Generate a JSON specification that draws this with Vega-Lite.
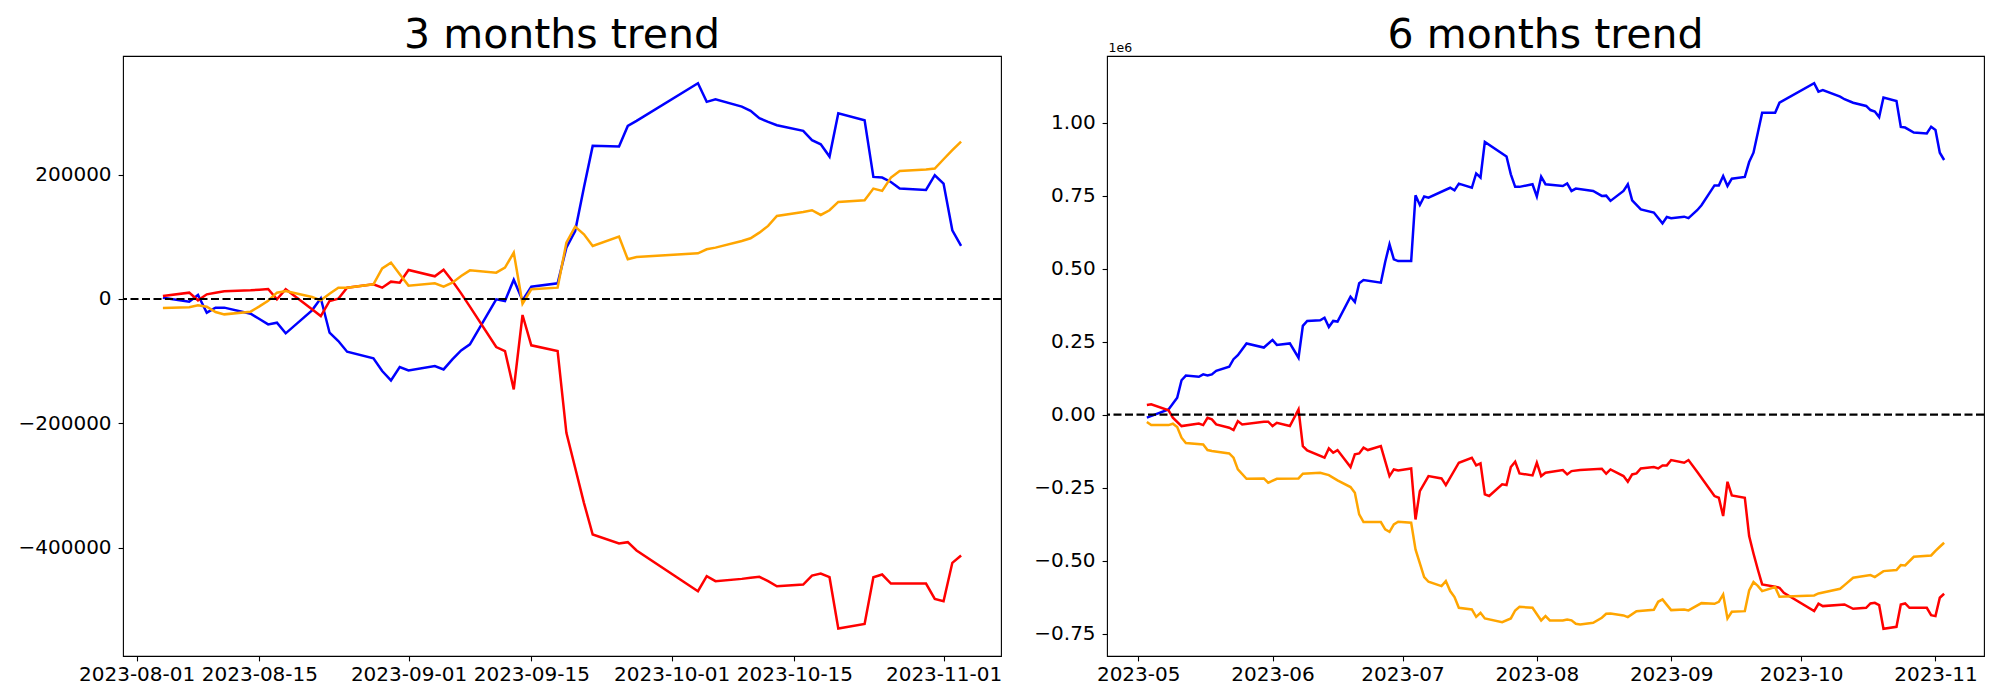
{
  "$schema": "https://vega.github.io/schema/vega-lite/v6.json",
  "background": "white",
  "padding": {"left": 17, "top": 14, "right": 0, "bottom": 0},
  "spacing": 30,
  "config": {
    "font": "DejaVu Sans",
    "view": {"stroke": "black", "strokeWidth": 1.1},
    "axis": {
      "domain": false, "grid": false, "ticks": true, "tickColor": "black", "tickSize": 4.9, "tickWidth": 1.1,
      "labelFont": "DejaVu Sans", "labelFontSize": 20, "labelColor": "black", "labelOverlap": false, "labelFlush": false, "title": null
    },
    "axisX": {"labelPadding": 4},
    "axisY": {"labelPadding": 7},
    "title": {"font": "DejaVu Sans", "fontSize": 41, "fontWeight": "normal", "color": "black", "baseline": "alphabetic", "anchor": "middle", "frame": "group"}
  },
  "datasets": {
    "three": [
      {"date": "2023-08-04", "series": "blue", "value": 2000},
      {"date": "2023-08-07", "series": "blue", "value": -4300},
      {"date": "2023-08-08", "series": "blue", "value": 6400},
      {"date": "2023-08-09", "series": "blue", "value": -22000},
      {"date": "2023-08-10", "series": "blue", "value": -13900},
      {"date": "2023-08-11", "series": "blue", "value": -13900},
      {"date": "2023-08-14", "series": "blue", "value": -23600},
      {"date": "2023-08-15", "series": "blue", "value": -32200},
      {"date": "2023-08-16", "series": "blue", "value": -40800},
      {"date": "2023-08-17", "series": "blue", "value": -38100},
      {"date": "2023-08-18", "series": "blue", "value": -55200},
      {"date": "2023-08-21", "series": "blue", "value": -18200},
      {"date": "2023-08-22", "series": "blue", "value": 1100},
      {"date": "2023-08-23", "series": "blue", "value": -54200},
      {"date": "2023-08-24", "series": "blue", "value": -67600},
      {"date": "2023-08-25", "series": "blue", "value": -84700},
      {"date": "2023-08-28", "series": "blue", "value": -95500},
      {"date": "2023-08-29", "series": "blue", "value": -115800},
      {"date": "2023-08-30", "series": "blue", "value": -130900},
      {"date": "2023-08-31", "series": "blue", "value": -109400},
      {"date": "2023-09-01", "series": "blue", "value": -114800},
      {"date": "2023-09-04", "series": "blue", "value": -107800},
      {"date": "2023-09-05", "series": "blue", "value": -113200},
      {"date": "2023-09-06", "series": "blue", "value": -97100},
      {"date": "2023-09-07", "series": "blue", "value": -82600},
      {"date": "2023-09-08", "series": "blue", "value": -72900},
      {"date": "2023-09-11", "series": "blue", "value": -500},
      {"date": "2023-09-12", "series": "blue", "value": -3200},
      {"date": "2023-09-13", "series": "blue", "value": 31100},
      {"date": "2023-09-14", "series": "blue", "value": -2100},
      {"date": "2023-09-15", "series": "blue", "value": 19800},
      {"date": "2023-09-18", "series": "blue", "value": 25200},
      {"date": "2023-09-19", "series": "blue", "value": 82600},
      {"date": "2023-09-20", "series": "blue", "value": 109400},
      {"date": "2023-09-21", "series": "blue", "value": 179100},
      {"date": "2023-09-22", "series": "blue", "value": 246200},
      {"date": "2023-09-25", "series": "blue", "value": 245100},
      {"date": "2023-09-26", "series": "blue", "value": 278300},
      {"date": "2023-09-27", "series": "blue", "value": 286400},
      {"date": "2023-10-04", "series": "blue", "value": 347000},
      {"date": "2023-10-05", "series": "blue", "value": 317000},
      {"date": "2023-10-06", "series": "blue", "value": 321200},
      {"date": "2023-10-09", "series": "blue", "value": 309400},
      {"date": "2023-10-10", "series": "blue", "value": 302500},
      {"date": "2023-10-11", "series": "blue", "value": 290700},
      {"date": "2023-10-12", "series": "blue", "value": 284800},
      {"date": "2023-10-13", "series": "blue", "value": 279400},
      {"date": "2023-10-16", "series": "blue", "value": 270300},
      {"date": "2023-10-17", "series": "blue", "value": 255300},
      {"date": "2023-10-18", "series": "blue", "value": 248800},
      {"date": "2023-10-19", "series": "blue", "value": 229000},
      {"date": "2023-10-20", "series": "blue", "value": 298700},
      {"date": "2023-10-23", "series": "blue", "value": 287500},
      {"date": "2023-10-24", "series": "blue", "value": 196300},
      {"date": "2023-10-25", "series": "blue", "value": 195200},
      {"date": "2023-10-26", "series": "blue", "value": 188200},
      {"date": "2023-10-27", "series": "blue", "value": 177500},
      {"date": "2023-10-30", "series": "blue", "value": 175400},
      {"date": "2023-10-31", "series": "blue", "value": 199000},
      {"date": "2023-11-01", "series": "blue", "value": 185600},
      {"date": "2023-11-02", "series": "blue", "value": 110500},
      {"date": "2023-11-03", "series": "blue", "value": 85300},

      {"date": "2023-08-04", "series": "red", "value": 4800},
      {"date": "2023-08-07", "series": "red", "value": 10200},
      {"date": "2023-08-08", "series": "red", "value": -2100},
      {"date": "2023-08-09", "series": "red", "value": 7500},
      {"date": "2023-08-10", "series": "red", "value": 10200},
      {"date": "2023-08-11", "series": "red", "value": 12300},
      {"date": "2023-08-14", "series": "red", "value": 13900},
      {"date": "2023-08-15", "series": "red", "value": 15000},
      {"date": "2023-08-16", "series": "red", "value": 16100},
      {"date": "2023-08-17", "series": "red", "value": -500},
      {"date": "2023-08-18", "series": "red", "value": 15600},
      {"date": "2023-08-21", "series": "red", "value": -16600},
      {"date": "2023-08-22", "series": "red", "value": -27400},
      {"date": "2023-08-23", "series": "red", "value": -3200},
      {"date": "2023-08-24", "series": "red", "value": 500},
      {"date": "2023-08-25", "series": "red", "value": 18200},
      {"date": "2023-08-28", "series": "red", "value": 23600},
      {"date": "2023-08-29", "series": "red", "value": 18200},
      {"date": "2023-08-30", "series": "red", "value": 27900},
      {"date": "2023-08-31", "series": "red", "value": 26300},
      {"date": "2023-09-01", "series": "red", "value": 46700},
      {"date": "2023-09-04", "series": "red", "value": 36500},
      {"date": "2023-09-05", "series": "red", "value": 47200},
      {"date": "2023-09-06", "series": "red", "value": 29000},
      {"date": "2023-09-07", "series": "red", "value": 9100},
      {"date": "2023-09-08", "series": "red", "value": -12300},
      {"date": "2023-09-11", "series": "red", "value": -77200},
      {"date": "2023-09-12", "series": "red", "value": -83700},
      {"date": "2023-09-13", "series": "red", "value": -145300},
      {"date": "2023-09-14", "series": "red", "value": -25700},
      {"date": "2023-09-15", "series": "red", "value": -74500},
      {"date": "2023-09-18", "series": "red", "value": -83700},
      {"date": "2023-09-19", "series": "red", "value": -215100},
      {"date": "2023-09-20", "series": "red", "value": -271400},
      {"date": "2023-09-21", "series": "red", "value": -327700},
      {"date": "2023-09-22", "series": "red", "value": -378600},
      {"date": "2023-09-25", "series": "red", "value": -393100},
      {"date": "2023-09-26", "series": "red", "value": -391000},
      {"date": "2023-09-27", "series": "red", "value": -404400},
      {"date": "2023-10-04", "series": "red", "value": -469800},
      {"date": "2023-10-05", "series": "red", "value": -445700},
      {"date": "2023-10-06", "series": "red", "value": -453700},
      {"date": "2023-10-09", "series": "red", "value": -450000},
      {"date": "2023-10-10", "series": "red", "value": -448300},
      {"date": "2023-10-11", "series": "red", "value": -446700},
      {"date": "2023-10-12", "series": "red", "value": -453700},
      {"date": "2023-10-13", "series": "red", "value": -461800},
      {"date": "2023-10-16", "series": "red", "value": -459100},
      {"date": "2023-10-17", "series": "red", "value": -444600},
      {"date": "2023-10-18", "series": "red", "value": -441400},
      {"date": "2023-10-19", "series": "red", "value": -447300},
      {"date": "2023-10-20", "series": "red", "value": -529900},
      {"date": "2023-10-23", "series": "red", "value": -522400},
      {"date": "2023-10-24", "series": "red", "value": -447300},
      {"date": "2023-10-25", "series": "red", "value": -443000},
      {"date": "2023-10-26", "series": "red", "value": -457500},
      {"date": "2023-10-27", "series": "red", "value": -457500},
      {"date": "2023-10-30", "series": "red", "value": -457500},
      {"date": "2023-10-31", "series": "red", "value": -482100},
      {"date": "2023-11-01", "series": "red", "value": -485900},
      {"date": "2023-11-02", "series": "red", "value": -424200},
      {"date": "2023-11-03", "series": "red", "value": -412400},

      {"date": "2023-08-04", "series": "orange", "value": -14500},
      {"date": "2023-08-07", "series": "orange", "value": -13400},
      {"date": "2023-08-08", "series": "orange", "value": -10200},
      {"date": "2023-08-09", "series": "orange", "value": -12300},
      {"date": "2023-08-10", "series": "orange", "value": -20900},
      {"date": "2023-08-11", "series": "orange", "value": -24700},
      {"date": "2023-08-14", "series": "orange", "value": -20400},
      {"date": "2023-08-15", "series": "orange", "value": -11800},
      {"date": "2023-08-16", "series": "orange", "value": -2700},
      {"date": "2023-08-17", "series": "orange", "value": 10200},
      {"date": "2023-08-18", "series": "orange", "value": 12900},
      {"date": "2023-08-21", "series": "orange", "value": 3200},
      {"date": "2023-08-22", "series": "orange", "value": -2100},
      {"date": "2023-08-23", "series": "orange", "value": 8600},
      {"date": "2023-08-24", "series": "orange", "value": 18200},
      {"date": "2023-08-25", "series": "orange", "value": 18200},
      {"date": "2023-08-28", "series": "orange", "value": 23600},
      {"date": "2023-08-29", "series": "orange", "value": 49300},
      {"date": "2023-08-30", "series": "orange", "value": 58500},
      {"date": "2023-08-31", "series": "orange", "value": 39700},
      {"date": "2023-09-01", "series": "orange", "value": 21500},
      {"date": "2023-09-04", "series": "orange", "value": 25200},
      {"date": "2023-09-05", "series": "orange", "value": 19800},
      {"date": "2023-09-06", "series": "orange", "value": 26300},
      {"date": "2023-09-07", "series": "orange", "value": 37000},
      {"date": "2023-09-08", "series": "orange", "value": 46100},
      {"date": "2023-09-11", "series": "orange", "value": 42400},
      {"date": "2023-09-12", "series": "orange", "value": 50400},
      {"date": "2023-09-13", "series": "orange", "value": 74500},
      {"date": "2023-09-14", "series": "orange", "value": -7500},
      {"date": "2023-09-15", "series": "orange", "value": 15600},
      {"date": "2023-09-18", "series": "orange", "value": 18200},
      {"date": "2023-09-19", "series": "orange", "value": 90600},
      {"date": "2023-09-20", "series": "orange", "value": 116400},
      {"date": "2023-09-21", "series": "orange", "value": 104000},
      {"date": "2023-09-22", "series": "orange", "value": 85300},
      {"date": "2023-09-25", "series": "orange", "value": 100300},
      {"date": "2023-09-26", "series": "orange", "value": 63800},
      {"date": "2023-09-27", "series": "orange", "value": 67600},
      {"date": "2023-10-04", "series": "orange", "value": 73500},
      {"date": "2023-10-05", "series": "orange", "value": 79900},
      {"date": "2023-10-06", "series": "orange", "value": 82600},
      {"date": "2023-10-09", "series": "orange", "value": 93300},
      {"date": "2023-10-10", "series": "orange", "value": 97600},
      {"date": "2023-10-11", "series": "orange", "value": 106700},
      {"date": "2023-10-12", "series": "orange", "value": 117500},
      {"date": "2023-10-13", "series": "orange", "value": 133500},
      {"date": "2023-10-16", "series": "orange", "value": 140000},
      {"date": "2023-10-17", "series": "orange", "value": 142700},
      {"date": "2023-10-18", "series": "orange", "value": 135100},
      {"date": "2023-10-19", "series": "orange", "value": 142700},
      {"date": "2023-10-20", "series": "orange", "value": 156100},
      {"date": "2023-10-23", "series": "orange", "value": 158700},
      {"date": "2023-10-24", "series": "orange", "value": 177500},
      {"date": "2023-10-25", "series": "orange", "value": 173800},
      {"date": "2023-10-26", "series": "orange", "value": 195200},
      {"date": "2023-10-27", "series": "orange", "value": 205900},
      {"date": "2023-10-30", "series": "orange", "value": 208100},
      {"date": "2023-10-31", "series": "orange", "value": 209700},
      {"date": "2023-11-01", "series": "orange", "value": 224700},
      {"date": "2023-11-02", "series": "orange", "value": 239200},
      {"date": "2023-11-03", "series": "orange", "value": 253100}
    ],
    "six": [
      {"date": "2023-05-03", "series": "blue", "value": -10000},
      {"date": "2023-05-08", "series": "blue", "value": 18000},
      {"date": "2023-05-10", "series": "blue", "value": 58000},
      {"date": "2023-05-11", "series": "blue", "value": 118000},
      {"date": "2023-05-12", "series": "blue", "value": 134000},
      {"date": "2023-05-15", "series": "blue", "value": 130000},
      {"date": "2023-05-16", "series": "blue", "value": 138000},
      {"date": "2023-05-17", "series": "blue", "value": 134000},
      {"date": "2023-05-18", "series": "blue", "value": 138000},
      {"date": "2023-05-19", "series": "blue", "value": 150000},
      {"date": "2023-05-22", "series": "blue", "value": 164000},
      {"date": "2023-05-23", "series": "blue", "value": 190000},
      {"date": "2023-05-24", "series": "blue", "value": 204000},
      {"date": "2023-05-26", "series": "blue", "value": 244000},
      {"date": "2023-05-30", "series": "blue", "value": 230000},
      {"date": "2023-06-01", "series": "blue", "value": 256000},
      {"date": "2023-06-02", "series": "blue", "value": 239000},
      {"date": "2023-06-05", "series": "blue", "value": 244000},
      {"date": "2023-06-07", "series": "blue", "value": 195000},
      {"date": "2023-06-08", "series": "blue", "value": 304000},
      {"date": "2023-06-09", "series": "blue", "value": 321000},
      {"date": "2023-06-12", "series": "blue", "value": 323000},
      {"date": "2023-06-13", "series": "blue", "value": 332000},
      {"date": "2023-06-14", "series": "blue", "value": 300000},
      {"date": "2023-06-15", "series": "blue", "value": 321000},
      {"date": "2023-06-16", "series": "blue", "value": 319000},
      {"date": "2023-06-19", "series": "blue", "value": 404000},
      {"date": "2023-06-20", "series": "blue", "value": 386000},
      {"date": "2023-06-21", "series": "blue", "value": 450000},
      {"date": "2023-06-22", "series": "blue", "value": 461000},
      {"date": "2023-06-26", "series": "blue", "value": 452000},
      {"date": "2023-06-27", "series": "blue", "value": 523000},
      {"date": "2023-06-28", "series": "blue", "value": 583000},
      {"date": "2023-06-29", "series": "blue", "value": 532000},
      {"date": "2023-06-30", "series": "blue", "value": 526000},
      {"date": "2023-07-03", "series": "blue", "value": 526000},
      {"date": "2023-07-04", "series": "blue", "value": 751000},
      {"date": "2023-07-05", "series": "blue", "value": 718000},
      {"date": "2023-07-06", "series": "blue", "value": 747000},
      {"date": "2023-07-07", "series": "blue", "value": 743000},
      {"date": "2023-07-12", "series": "blue", "value": 777000},
      {"date": "2023-07-13", "series": "blue", "value": 768000},
      {"date": "2023-07-14", "series": "blue", "value": 791000},
      {"date": "2023-07-17", "series": "blue", "value": 777000},
      {"date": "2023-07-18", "series": "blue", "value": 826000},
      {"date": "2023-07-19", "series": "blue", "value": 812000},
      {"date": "2023-07-20", "series": "blue", "value": 934000},
      {"date": "2023-07-25", "series": "blue", "value": 884000},
      {"date": "2023-07-26", "series": "blue", "value": 823000},
      {"date": "2023-07-27", "series": "blue", "value": 780000},
      {"date": "2023-07-28", "series": "blue", "value": 780000},
      {"date": "2023-07-31", "series": "blue", "value": 789000},
      {"date": "2023-08-01", "series": "blue", "value": 747000},
      {"date": "2023-08-02", "series": "blue", "value": 815000},
      {"date": "2023-08-03", "series": "blue", "value": 789000},
      {"date": "2023-08-07", "series": "blue", "value": 783000},
      {"date": "2023-08-08", "series": "blue", "value": 792000},
      {"date": "2023-08-09", "series": "blue", "value": 766000},
      {"date": "2023-08-10", "series": "blue", "value": 774000},
      {"date": "2023-08-14", "series": "blue", "value": 766000},
      {"date": "2023-08-16", "series": "blue", "value": 749000},
      {"date": "2023-08-17", "series": "blue", "value": 750000},
      {"date": "2023-08-18", "series": "blue", "value": 732000},
      {"date": "2023-08-21", "series": "blue", "value": 766000},
      {"date": "2023-08-22", "series": "blue", "value": 789000},
      {"date": "2023-08-23", "series": "blue", "value": 734000},
      {"date": "2023-08-25", "series": "blue", "value": 703000},
      {"date": "2023-08-28", "series": "blue", "value": 692000},
      {"date": "2023-08-30", "series": "blue", "value": 655000},
      {"date": "2023-08-31", "series": "blue", "value": 677000},
      {"date": "2023-09-01", "series": "blue", "value": 673000},
      {"date": "2023-09-04", "series": "blue", "value": 678000},
      {"date": "2023-09-05", "series": "blue", "value": 673000},
      {"date": "2023-09-07", "series": "blue", "value": 700000},
      {"date": "2023-09-08", "series": "blue", "value": 717000},
      {"date": "2023-09-11", "series": "blue", "value": 785000},
      {"date": "2023-09-12", "series": "blue", "value": 785000},
      {"date": "2023-09-13", "series": "blue", "value": 817000},
      {"date": "2023-09-14", "series": "blue", "value": 783000},
      {"date": "2023-09-15", "series": "blue", "value": 808000},
      {"date": "2023-09-18", "series": "blue", "value": 814000},
      {"date": "2023-09-19", "series": "blue", "value": 865000},
      {"date": "2023-09-20", "series": "blue", "value": 897000},
      {"date": "2023-09-21", "series": "blue", "value": 965000},
      {"date": "2023-09-22", "series": "blue", "value": 1034000},
      {"date": "2023-09-25", "series": "blue", "value": 1034000},
      {"date": "2023-09-26", "series": "blue", "value": 1068000},
      {"date": "2023-10-04", "series": "blue", "value": 1135000},
      {"date": "2023-10-05", "series": "blue", "value": 1106000},
      {"date": "2023-10-06", "series": "blue", "value": 1111000},
      {"date": "2023-10-10", "series": "blue", "value": 1089000},
      {"date": "2023-10-11", "series": "blue", "value": 1080000},
      {"date": "2023-10-13", "series": "blue", "value": 1068000},
      {"date": "2023-10-16", "series": "blue", "value": 1057000},
      {"date": "2023-10-17", "series": "blue", "value": 1043000},
      {"date": "2023-10-18", "series": "blue", "value": 1038000},
      {"date": "2023-10-19", "series": "blue", "value": 1019000},
      {"date": "2023-10-20", "series": "blue", "value": 1086000},
      {"date": "2023-10-23", "series": "blue", "value": 1074000},
      {"date": "2023-10-24", "series": "blue", "value": 985000},
      {"date": "2023-10-25", "series": "blue", "value": 983000},
      {"date": "2023-10-27", "series": "blue", "value": 966000},
      {"date": "2023-10-30", "series": "blue", "value": 963000},
      {"date": "2023-10-31", "series": "blue", "value": 986000},
      {"date": "2023-11-01", "series": "blue", "value": 975000},
      {"date": "2023-11-02", "series": "blue", "value": 897000},
      {"date": "2023-11-03", "series": "blue", "value": 872000},

      {"date": "2023-05-03", "series": "red", "value": 33000},
      {"date": "2023-05-04", "series": "red", "value": 35500},
      {"date": "2023-05-08", "series": "red", "value": 15000},
      {"date": "2023-05-09", "series": "red", "value": -10000},
      {"date": "2023-05-11", "series": "red", "value": -39000},
      {"date": "2023-05-15", "series": "red", "value": -30000},
      {"date": "2023-05-16", "series": "red", "value": -35500},
      {"date": "2023-05-17", "series": "red", "value": -10400},
      {"date": "2023-05-18", "series": "red", "value": -16000},
      {"date": "2023-05-19", "series": "red", "value": -33000},
      {"date": "2023-05-22", "series": "red", "value": -44600},
      {"date": "2023-05-23", "series": "red", "value": -52600},
      {"date": "2023-05-24", "series": "red", "value": -21800},
      {"date": "2023-05-25", "series": "red", "value": -33200},
      {"date": "2023-05-30", "series": "red", "value": -24100},
      {"date": "2023-05-31", "series": "red", "value": -24000},
      {"date": "2023-06-01", "series": "red", "value": -38900},
      {"date": "2023-06-02", "series": "red", "value": -27500},
      {"date": "2023-06-05", "series": "red", "value": -38900},
      {"date": "2023-06-07", "series": "red", "value": 18400},
      {"date": "2023-06-08", "series": "red", "value": -107300},
      {"date": "2023-06-09", "series": "red", "value": -122100},
      {"date": "2023-06-13", "series": "red", "value": -147300},
      {"date": "2023-06-14", "series": "red", "value": -115300},
      {"date": "2023-06-15", "series": "red", "value": -130100},
      {"date": "2023-06-16", "series": "red", "value": -121000},
      {"date": "2023-06-19", "series": "red", "value": -179200},
      {"date": "2023-06-20", "series": "red", "value": -135800},
      {"date": "2023-06-21", "series": "red", "value": -132400},
      {"date": "2023-06-22", "series": "red", "value": -113000},
      {"date": "2023-06-23", "series": "red", "value": -121000},
      {"date": "2023-06-26", "series": "red", "value": -107300},
      {"date": "2023-06-28", "series": "red", "value": -210100},
      {"date": "2023-06-29", "series": "red", "value": -187300},
      {"date": "2023-06-30", "series": "red", "value": -190700},
      {"date": "2023-07-03", "series": "red", "value": -183800},
      {"date": "2023-07-04", "series": "red", "value": -358500},
      {"date": "2023-07-05", "series": "red", "value": -261500},
      {"date": "2023-07-07", "series": "red", "value": -210100},
      {"date": "2023-07-10", "series": "red", "value": -218000},
      {"date": "2023-07-11", "series": "red", "value": -240900},
      {"date": "2023-07-14", "series": "red", "value": -164400},
      {"date": "2023-07-17", "series": "red", "value": -147300},
      {"date": "2023-07-18", "series": "red", "value": -173500},
      {"date": "2023-07-19", "series": "red", "value": -166700},
      {"date": "2023-07-20", "series": "red", "value": -272500},
      {"date": "2023-07-21", "series": "red", "value": -278200},
      {"date": "2023-07-24", "series": "red", "value": -238300},
      {"date": "2023-07-25", "series": "red", "value": -240600},
      {"date": "2023-07-26", "series": "red", "value": -179200},
      {"date": "2023-07-27", "series": "red", "value": -160900},
      {"date": "2023-07-28", "series": "red", "value": -200900},
      {"date": "2023-07-31", "series": "red", "value": -207700},
      {"date": "2023-08-01", "series": "red", "value": -164400},
      {"date": "2023-08-02", "series": "red", "value": -210100},
      {"date": "2023-08-03", "series": "red", "value": -198700},
      {"date": "2023-08-07", "series": "red", "value": -189500},
      {"date": "2023-08-08", "series": "red", "value": -204400},
      {"date": "2023-08-09", "series": "red", "value": -193000},
      {"date": "2023-08-11", "series": "red", "value": -189500},
      {"date": "2023-08-16", "series": "red", "value": -184900},
      {"date": "2023-08-17", "series": "red", "value": -202000},
      {"date": "2023-08-18", "series": "red", "value": -187300},
      {"date": "2023-08-21", "series": "red", "value": -210100},
      {"date": "2023-08-22", "series": "red", "value": -229500},
      {"date": "2023-08-23", "series": "red", "value": -204400},
      {"date": "2023-08-24", "series": "red", "value": -201000},
      {"date": "2023-08-25", "series": "red", "value": -183800},
      {"date": "2023-08-28", "series": "red", "value": -179200},
      {"date": "2023-08-29", "series": "red", "value": -183800},
      {"date": "2023-08-30", "series": "red", "value": -173500},
      {"date": "2023-08-31", "series": "red", "value": -173500},
      {"date": "2023-09-01", "series": "red", "value": -155200},
      {"date": "2023-09-04", "series": "red", "value": -164400},
      {"date": "2023-09-05", "series": "red", "value": -155200},
      {"date": "2023-09-07", "series": "red", "value": -195200},
      {"date": "2023-09-11", "series": "red", "value": -278500},
      {"date": "2023-09-12", "series": "red", "value": -284200},
      {"date": "2023-09-13", "series": "red", "value": -347000},
      {"date": "2023-09-14", "series": "red", "value": -229500},
      {"date": "2023-09-15", "series": "red", "value": -276300},
      {"date": "2023-09-18", "series": "red", "value": -284200},
      {"date": "2023-09-19", "series": "red", "value": -415500},
      {"date": "2023-09-20", "series": "red", "value": -475000},
      {"date": "2023-09-21", "series": "red", "value": -530000},
      {"date": "2023-09-22", "series": "red", "value": -581000},
      {"date": "2023-09-25", "series": "red", "value": -589000},
      {"date": "2023-09-26", "series": "red", "value": -592400},
      {"date": "2023-09-27", "series": "red", "value": -609600},
      {"date": "2023-10-04", "series": "red", "value": -672400},
      {"date": "2023-10-05", "series": "red", "value": -647200},
      {"date": "2023-10-06", "series": "red", "value": -655200},
      {"date": "2023-10-11", "series": "red", "value": -649500},
      {"date": "2023-10-13", "series": "red", "value": -664400},
      {"date": "2023-10-16", "series": "red", "value": -661000},
      {"date": "2023-10-17", "series": "red", "value": -646100},
      {"date": "2023-10-18", "series": "red", "value": -643900},
      {"date": "2023-10-19", "series": "red", "value": -651900},
      {"date": "2023-10-20", "series": "red", "value": -732900},
      {"date": "2023-10-23", "series": "red", "value": -726100},
      {"date": "2023-10-24", "series": "red", "value": -649500},
      {"date": "2023-10-25", "series": "red", "value": -646100},
      {"date": "2023-10-26", "series": "red", "value": -661000},
      {"date": "2023-10-30", "series": "red", "value": -661000},
      {"date": "2023-10-31", "series": "red", "value": -686100},
      {"date": "2023-11-01", "series": "red", "value": -689500},
      {"date": "2023-11-02", "series": "red", "value": -626700},
      {"date": "2023-11-03", "series": "red", "value": -613000},

      {"date": "2023-05-03", "series": "orange", "value": -25100},
      {"date": "2023-05-04", "series": "orange", "value": -35500},
      {"date": "2023-05-08", "series": "orange", "value": -35500},
      {"date": "2023-05-09", "series": "orange", "value": -30800},
      {"date": "2023-05-10", "series": "orange", "value": -42300},
      {"date": "2023-05-11", "series": "orange", "value": -78700},
      {"date": "2023-05-12", "series": "orange", "value": -97000},
      {"date": "2023-05-16", "series": "orange", "value": -101600},
      {"date": "2023-05-17", "series": "orange", "value": -121000},
      {"date": "2023-05-18", "series": "orange", "value": -124400},
      {"date": "2023-05-22", "series": "orange", "value": -132400},
      {"date": "2023-05-23", "series": "orange", "value": -147300},
      {"date": "2023-05-24", "series": "orange", "value": -187300},
      {"date": "2023-05-26", "series": "orange", "value": -219300},
      {"date": "2023-05-30", "series": "orange", "value": -218000},
      {"date": "2023-05-31", "series": "orange", "value": -232900},
      {"date": "2023-06-02", "series": "orange", "value": -219300},
      {"date": "2023-06-07", "series": "orange", "value": -218000},
      {"date": "2023-06-08", "series": "orange", "value": -202000},
      {"date": "2023-06-12", "series": "orange", "value": -198700},
      {"date": "2023-06-14", "series": "orange", "value": -206700},
      {"date": "2023-06-16", "series": "orange", "value": -224900},
      {"date": "2023-06-19", "series": "orange", "value": -247700},
      {"date": "2023-06-20", "series": "orange", "value": -267100},
      {"date": "2023-06-21", "series": "orange", "value": -341300},
      {"date": "2023-06-22", "series": "orange", "value": -367600},
      {"date": "2023-06-26", "series": "orange", "value": -367600},
      {"date": "2023-06-27", "series": "orange", "value": -392700},
      {"date": "2023-06-28", "series": "orange", "value": -400700},
      {"date": "2023-06-29", "series": "orange", "value": -375600},
      {"date": "2023-06-30", "series": "orange", "value": -366500},
      {"date": "2023-07-03", "series": "orange", "value": -369900},
      {"date": "2023-07-04", "series": "orange", "value": -461200},
      {"date": "2023-07-06", "series": "orange", "value": -555900},
      {"date": "2023-07-07", "series": "orange", "value": -571900},
      {"date": "2023-07-10", "series": "orange", "value": -586700},
      {"date": "2023-07-11", "series": "orange", "value": -569600},
      {"date": "2023-07-12", "series": "orange", "value": -603800},
      {"date": "2023-07-13", "series": "orange", "value": -624400},
      {"date": "2023-07-14", "series": "orange", "value": -660900},
      {"date": "2023-07-17", "series": "orange", "value": -666600},
      {"date": "2023-07-18", "series": "orange", "value": -691800},
      {"date": "2023-07-19", "series": "orange", "value": -678100},
      {"date": "2023-07-20", "series": "orange", "value": -697500},
      {"date": "2023-07-24", "series": "orange", "value": -710100},
      {"date": "2023-07-26", "series": "orange", "value": -697500},
      {"date": "2023-07-27", "series": "orange", "value": -670100},
      {"date": "2023-07-28", "series": "orange", "value": -657500},
      {"date": "2023-07-31", "series": "orange", "value": -661000},
      {"date": "2023-08-02", "series": "orange", "value": -704400},
      {"date": "2023-08-03", "series": "orange", "value": -689500},
      {"date": "2023-08-04", "series": "orange", "value": -704400},
      {"date": "2023-08-07", "series": "orange", "value": -704400},
      {"date": "2023-08-08", "series": "orange", "value": -700900},
      {"date": "2023-08-09", "series": "orange", "value": -704000},
      {"date": "2023-08-10", "series": "orange", "value": -715800},
      {"date": "2023-08-11", "series": "orange", "value": -718000},
      {"date": "2023-08-14", "series": "orange", "value": -712300},
      {"date": "2023-08-16", "series": "orange", "value": -695200},
      {"date": "2023-08-17", "series": "orange", "value": -681500},
      {"date": "2023-08-18", "series": "orange", "value": -680400},
      {"date": "2023-08-21", "series": "orange", "value": -687200},
      {"date": "2023-08-22", "series": "orange", "value": -692900},
      {"date": "2023-08-24", "series": "orange", "value": -672400},
      {"date": "2023-08-28", "series": "orange", "value": -667800},
      {"date": "2023-08-29", "series": "orange", "value": -640400},
      {"date": "2023-08-30", "series": "orange", "value": -632400},
      {"date": "2023-08-31", "series": "orange", "value": -651000},
      {"date": "2023-09-01", "series": "orange", "value": -668900},
      {"date": "2023-09-04", "series": "orange", "value": -666600},
      {"date": "2023-09-05", "series": "orange", "value": -670100},
      {"date": "2023-09-08", "series": "orange", "value": -645000},
      {"date": "2023-09-11", "series": "orange", "value": -647200},
      {"date": "2023-09-12", "series": "orange", "value": -640400},
      {"date": "2023-09-13", "series": "orange", "value": -615300},
      {"date": "2023-09-14", "series": "orange", "value": -697500},
      {"date": "2023-09-15", "series": "orange", "value": -674700},
      {"date": "2023-09-18", "series": "orange", "value": -672400},
      {"date": "2023-09-19", "series": "orange", "value": -601600},
      {"date": "2023-09-20", "series": "orange", "value": -573000},
      {"date": "2023-09-21", "series": "orange", "value": -586000},
      {"date": "2023-09-22", "series": "orange", "value": -603800},
      {"date": "2023-09-25", "series": "orange", "value": -590200},
      {"date": "2023-09-26", "series": "orange", "value": -623300},
      {"date": "2023-10-04", "series": "orange", "value": -618800},
      {"date": "2023-10-05", "series": "orange", "value": -612000},
      {"date": "2023-10-10", "series": "orange", "value": -596000},
      {"date": "2023-10-11", "series": "orange", "value": -583400},
      {"date": "2023-10-13", "series": "orange", "value": -558300},
      {"date": "2023-10-17", "series": "orange", "value": -549100},
      {"date": "2023-10-18", "series": "orange", "value": -556000},
      {"date": "2023-10-20", "series": "orange", "value": -535400},
      {"date": "2023-10-23", "series": "orange", "value": -532000},
      {"date": "2023-10-24", "series": "orange", "value": -514900},
      {"date": "2023-10-25", "series": "orange", "value": -516000},
      {"date": "2023-10-27", "series": "orange", "value": -486300},
      {"date": "2023-10-31", "series": "orange", "value": -481800},
      {"date": "2023-11-01", "series": "orange", "value": -466000},
      {"date": "2023-11-02", "series": "orange", "value": -452000},
      {"date": "2023-11-03", "series": "orange", "value": -438400}
    ]
  },
  "hconcat": [
    {
      "width": 878,
      "height": 600,
      "title": {"text": "3 months trend", "offset": -1},
      "layer": [
        {
          "data": {"name": "three"},
          "mark": {"type": "line", "strokeWidth": 2.5},
          "encoding": {
            "x": {
              "field": "date", "type": "temporal",
              "scale": {"type": "utc", "domain": [
                {"year": 2023, "month": 7, "date": 30, "hours": 10, "minutes": 48, "utc": true},
                {"year": 2023, "month": 11, "date": 7, "hours": 13, "minutes": 12, "utc": true}
              ]},
              "axis": {
                "labelExpr": "utcFormat(datum.value, '%Y-%m-%d')",
                "values": [
                  {"year": 2023, "month": 8, "date": 1, "utc": true},
                  {"year": 2023, "month": 8, "date": 15, "utc": true},
                  {"year": 2023, "month": 9, "date": 1, "utc": true},
                  {"year": 2023, "month": 9, "date": 15, "utc": true},
                  {"year": 2023, "month": 10, "date": 1, "utc": true},
                  {"year": 2023, "month": 10, "date": 15, "utc": true},
                  {"year": 2023, "month": 11, "date": 1, "utc": true}
                ]
              }
            },
            "y": {
              "field": "value", "type": "quantitative",
              "scale": {"domain": [-574000, 390700], "zero": false, "nice": false},
              "axis": {"values": [-400000, -200000, 0, 200000], "format": "d"}
            },
            "color": {
              "field": "series", "type": "nominal",
              "scale": {"domain": ["blue", "red", "orange"], "range": ["#0000ff", "#ff0000", "#ffa500"]},
              "legend": null
            }
          }
        },
        {
          "data": {"values": [{}]},
          "mark": {"type": "rule", "color": "black", "strokeWidth": 2.2, "strokeDash": [8, 3.5]},
          "encoding": {"y": {"datum": 0}}
        }
      ]
    },
    {
      "width": 877,
      "height": 600,
      "title": {"text": "6 months trend", "offset": -15},
      "layer": [
        {
          "data": {"name": "six"},
          "mark": {"type": "line", "strokeWidth": 2.5},
          "encoding": {
            "x": {
              "field": "date", "type": "temporal",
              "scale": {"type": "utc", "domain": [
                {"year": 2023, "month": 4, "date": 23, "hours": 19, "minutes": 12, "utc": true},
                {"year": 2023, "month": 11, "date": 12, "hours": 4, "minutes": 48, "utc": true}
              ]},
              "axis": {
                "labelExpr": "utcFormat(datum.value, '%Y-%m')",
                "values": [
                  {"year": 2023, "month": 5, "date": 1, "utc": true},
                  {"year": 2023, "month": 6, "date": 1, "utc": true},
                  {"year": 2023, "month": 7, "date": 1, "utc": true},
                  {"year": 2023, "month": 8, "date": 1, "utc": true},
                  {"year": 2023, "month": 9, "date": 1, "utc": true},
                  {"year": 2023, "month": 10, "date": 1, "utc": true},
                  {"year": 2023, "month": 11, "date": 1, "utc": true}
                ]
              }
            },
            "y": {
              "field": "value", "type": "quantitative",
              "scale": {"domain": [-826000, 1228000], "zero": false, "nice": false},
              "axis": {
                "values": [-750000, -500000, -250000, 0, 250000, 500000, 750000, 1000000],
                "labelExpr": "format(datum.value / 1000000, '.2f')",
                "title": "1e6", "titleAngle": 0, "titleAlign": "left", "titleBaseline": "alphabetic",
                "titleX": 1, "titleY": -4.3, "titleFontSize": 12.5, "titleFontWeight": "normal", "titleColor": "black", "titleFont": "DejaVu Sans"
              }
            },
            "color": {
              "field": "series", "type": "nominal",
              "scale": {"domain": ["blue", "red", "orange"], "range": ["#0000ff", "#ff0000", "#ffa500"]},
              "legend": null
            }
          }
        },
        {
          "data": {"values": [{}]},
          "mark": {"type": "rule", "color": "black", "strokeWidth": 2.2, "strokeDash": [8, 3.5]},
          "encoding": {"y": {"datum": 0}}
        }
      ]
    }
  ],
  "resolve": {"scale": {"color": "independent"}}
}
